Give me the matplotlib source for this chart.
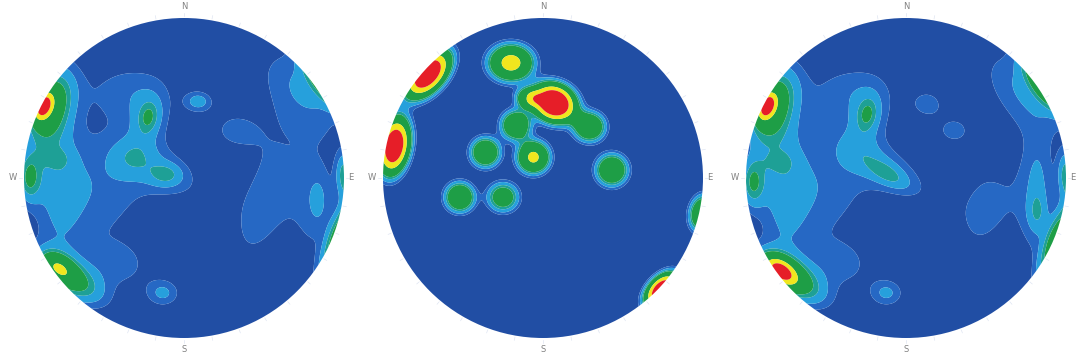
import matplotlib
matplotlib.use("Agg")
import matplotlib.pyplot as plt
from matplotlib.patches import Circle
import numpy as np

# Pole concentrations on each equal-area net: centre (x east, y north, unit circle),
# peak height, spread along / across the long axis, and direction of the long axis (deg).
p1_x     = [-0.35, -0.30, 0.32, 0.45, -0.40, 0.65, 0.80, -0.55, -0.13, -0.80, -0.84, -0.88, -0.97, -0.80, -0.70, -0.79, -0.23, -0.22, -0.12, -0.11, -0.33, 0.09, 0.84, 0.86, 0.78, 0.96, 1.00, 0.55]
p1_y     = [0.55, 0.15, 0.30, -0.25, -0.55, 0.55, -0.15, -0.10, -0.72, 0.05, 0.44, 0.45, 0.00, 0.12, -0.63, -0.56, 0.36, 0.38, 0.03, 0.02, 0.13, 0.48, -0.14, 0.60, 0.58, -0.36, 0.02, 0.10]
p1_amp   = [1.1, 0.75, 1.1, 1.1, 1.1, 1.1, 1.1, 1.0, 1.7, 1.6, 3.0, 6.5, 2.6, 0.7, 3.0, 3.2, 1.0, 1.3, 1.1, 1.2, 0.7, 1.7, 0.8, 3.3, 0.8, 3.3, 2.4, 0.5]
p1_major = [0.22, 0.30, 0.14, 0.25, 0.16, 0.25, 0.35, 0.25, 0.08, 0.50, 0.17, 0.065, 0.11, 0.07, 0.17, 0.08, 0.13, 0.07, 0.22, 0.07, 0.09, 0.06, 0.12, 0.16, 0.20, 0.20, 0.10, 0.28]
p1_minor = [0.14, 0.22, 0.12, 0.12, 0.12, 0.12, 0.14, 0.20, 0.065, 0.12, 0.09, 0.04, 0.055, 0.05, 0.08, 0.05, 0.08, 0.045, 0.10, 0.05, 0.08, 0.045, 0.05, 0.045, 0.08, 0.045, 0.035, 0.12]
p1_angle = [0, 70, 0, 75, 0, -50, 88, 90, 0, 92, 68, 68, 90, 0, -35, -35, 80, 80, -25, 0, 0, 0, 90, -55, -55, 70, 90, 80]

p2_x     = [-0.20, -0.72, -0.93, 0.07, -0.10, -0.17, 0.29, -0.06, -0.36, 0.43, -0.52, -0.25, 0.99, 0.74]
p2_y     = [0.72, 0.65, 0.20, 0.47, 0.50, 0.33, 0.32, 0.13, 0.16, 0.05, -0.12, -0.12, -0.22, -0.70]
p2_amp   = [6.6, 10.0, 10.0, 11.0, 4.0, 5.0, 5.0, 6.3, 5.0, 5.0, 5.0, 4.0, 5.0, 10.0]
p2_major = [0.11, 0.14, 0.14, 0.11, 0.06, 0.075, 0.08, 0.08, 0.075, 0.08, 0.075, 0.08, 0.09, 0.10]
p2_minor = [0.09, 0.08, 0.075, 0.09, 0.05, 0.075, 0.075, 0.08, 0.075, 0.08, 0.075, 0.075, 0.06, 0.06]
p2_angle = [0, 48, 80, -25, 0, 0, 0, 0, 0, 0, 0, 0, 80, 47]

p3_x     = [-0.35, -0.30, 0.30, 0.47, -0.40, 0.65, 0.80, -0.55, -0.12, -0.78, -0.84, -0.87, -0.96, -0.80, -0.70, -0.79, -0.25, -0.24, -0.12, -0.11, 0.13, 0.82, 0.82, 0.85, 0.78, 0.93, 1.00]
p3_y     = [0.55, 0.15, 0.30, -0.20, -0.55, 0.55, -0.10, -0.10, -0.72, 0.05, 0.44, 0.45, -0.03, 0.10, -0.63, -0.58, 0.36, 0.40, 0.05, 0.02, 0.47, -0.10, -0.22, 0.58, 0.56, -0.39, 0.02]
p3_amp   = [1.1, 0.7, 1.05, 1.2, 1.1, 1.1, 1.1, 1.0, 1.7, 1.6, 3.0, 6.5, 2.6, 0.7, 3.2, 6.5, 1.0, 1.3, 1.3, 1.1, 1.2, 0.9, 0.8, 3.3, 0.8, 3.3, 2.4]
p3_major = [0.22, 0.30, 0.14, 0.22, 0.16, 0.25, 0.35, 0.25, 0.08, 0.50, 0.17, 0.065, 0.11, 0.07, 0.17, 0.085, 0.14, 0.07, 0.25, 0.10, 0.06, 0.22, 0.08, 0.16, 0.20, 0.20, 0.10]
p3_minor = [0.14, 0.22, 0.12, 0.12, 0.12, 0.12, 0.14, 0.20, 0.065, 0.12, 0.09, 0.04, 0.055, 0.05, 0.08, 0.05, 0.08, 0.045, 0.09, 0.045, 0.05, 0.05, 0.045, 0.045, 0.08, 0.045, 0.035]
p3_angle = [0, 70, 0, 80, 0, -50, 88, 90, 0, 92, 68, 68, 90, 0, -35, -35, 80, 80, -30, -30, 0, 90, 90, -55, -55, 70, 90]

# kernel sharpness for each net (1 = plain gaussian)
sharpness = [1.0, 1.3, 1.0]

# contour intervals and fill colours (low -> high)
levels = [-1.0, 1.0, 1.6, 2.4, 3.0, 6.0, 8.0, 100.0]
colors = ["#214ea4", "#2668c4", "#26a0dc", "#1ea096", "#1e9e46", "#f0e61e", "#e61e28"]

compass = ["N", "E", "S", "W"]


def density(gx, gy, xs, ys, amps, major, minor, angle, p=1.0):
    d = np.zeros_like(gx)
    for x, y, a, s1, s2, ang in zip(xs, ys, amps, major, minor, angle):
        th = np.radians(ang)
        dx, dy = gx - x, gy - y
        u = dx * np.cos(th) + dy * np.sin(th)
        v = -dx * np.sin(th) + dy * np.cos(th)
        q = (u / s1) ** 2 + (v / s2) ** 2
        d += a * np.exp(-0.5 * q ** p)
    return d


def stereonet(ax, field, p):
    g = np.linspace(-1.02, 1.02, 500)
    gx, gy = np.meshgrid(g, g)
    z = density(gx, gy, *field, p=p)

    cs = ax.contourf(gx, gy, z, levels=levels, colors=colors, antialiased=True)
    rim = Circle((0, 0), 1.0, transform=ax.transData, facecolor="none", edgecolor="none")
    ax.add_patch(rim)
    cs.set_clip_path(rim)

    # 10 degree ticks round the primitive
    for az in np.arange(0, 360, 10):
        t = np.radians(90 - az)
        ax.plot([1.01 * np.cos(t), 1.03 * np.cos(t)], [1.01 * np.sin(t), 1.03 * np.sin(t)],
                color="#dfe5f2", lw=0.5)

    for lab, az, off in zip(compass, [0, 90, 180, 270], [1.07, 1.045, 1.075, 1.07]):
        t = np.radians(90 - az)
        ax.text(off * np.cos(t), off * np.sin(t), lab, ha="center", va="center",
                fontsize=6, color="#808080")

    ax.set_xlim(-1.12, 1.12)
    ax.set_ylim(-1.12, 1.12)
    ax.set_aspect("equal")
    ax.axis("off")


fig = plt.figure(figsize=(10.76, 3.61), dpi=100)
W, H = 1076.0, 361.0
R = 160.0
size = 2 * 1.12 * R
centres = [(184, 183), (543, 183), (906, 183)]
fields = [
    (p1_x, p1_y, p1_amp, p1_major, p1_minor, p1_angle),
    (p2_x, p2_y, p2_amp, p2_major, p2_minor, p2_angle),
    (p3_x, p3_y, p3_amp, p3_major, p3_minor, p3_angle),
]
for (cx, cy), f, p in zip(centres, fields, sharpness):
    ax = fig.add_axes([(cx - size / 2) / W, (cy - size / 2) / H, size / W, size / H])
    stereonet(ax, f, p)

fig.savefig("out.png", dpi=100)
